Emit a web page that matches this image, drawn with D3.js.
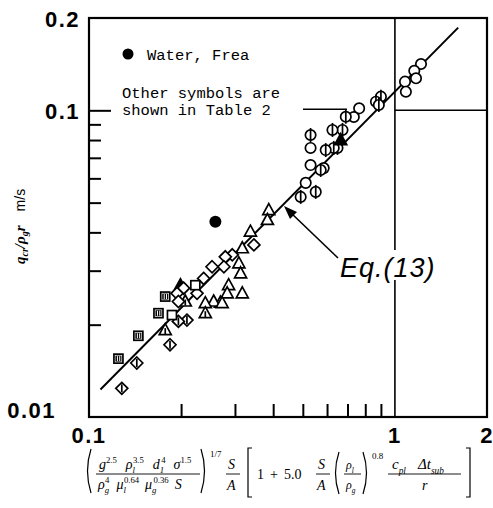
<!DOCTYPE html>
<html>
<head>
<meta charset="utf-8">
<script src="https://cdn.jsdelivr.net/npm/d3@7"></script>
<style>
  html, body { margin: 0; padding: 0; background: #fff; }
</style>
</head>
<body>
<div id="chart"></div>
<script>
// data (x = dimensionless group, y = q_cr/rho_g r in m/s)
const openCircles = [[1.217, 0.1416], [1.157, 0.1346], [1.172, 0.1272], [1.079, 0.124], [1.086, 0.115],
    [0.764, 0.1015], [0.734, 0.0951], [0.53, 0.0754], [0.53, 0.0663], [0.585, 0.0648], [0.511, 0.058]];
const barCircles = [[0.9, 0.1108], [0.867, 0.1067], [0.886, 0.1041], [0.691, 0.0953], [0.674, 0.0863],
    [0.625, 0.0863], [0.649, 0.0754], [0.631, 0.0754], [0.594, 0.0742], [0.572, 0.0639], [0.551, 0.0542],
    [0.492, 0.0522], [0.53, 0.0831]];
const openTriangles = [[0.387, 0.0473], [0.383, 0.0439], [0.337, 0.0402], [0.317, 0.0355], [0.309, 0.0317],
    [0.313, 0.0294], [0.317, 0.0253], [0.286, 0.0269], [0.283, 0.0253], [0.269, 0.0236], [0.2556, 0.0238],
    [0.240, 0.0235], [0.2724, 0.0235]];
const barTriangles = [[0.240, 0.0218], [0.1775, 0.0192], [0.2064, 0.0238]];
const filledTriangles = [[0.665, 0.08], [0.199, 0.0269]];
const openDiamonds = [[0.346, 0.0364], [0.294, 0.0338], [0.279, 0.0333], [0.276, 0.0309], [0.2525, 0.0309],
    [0.237, 0.0283], [0.2255, 0.0253], [0.2038, 0.0263], [0.194, 0.0253], [0.196, 0.0238]];
const barDiamonds = [[0.209, 0.0207], [0.196, 0.0205], [0.184, 0.0172], [0.1433, 0.015], [0.128, 0.0124]];
const openSquares = [[0.2226, 0.0269], [0.1867, 0.0215]];
const barSquares = [[0.1775, 0.0247], [0.1687, 0.0218], [0.145, 0.0184], [0.1248, 0.0155]];
const waterFrea = [[0.2589, 0.0433]];

// Eq.(13) correlation line end points
const eqLine = [[0.109, 0.0123], [1.61, 0.186]];

const xDomain = [0.1, 2];
const yDomain = [0.01, 0.2];
const xMinorTicks = [0.2, 0.3, 0.4, 0.5, 0.6, 0.7, 0.8, 0.9];
const yMinorTicks = [0.02, 0.03, 0.04, 0.05, 0.06, 0.07, 0.08, 0.09];
const yMajorTicks = [0.1];
const xTickLabels = [[0.1, "0.1"], [1, "1"], [2, "2"]];
const yTickLabels = [[0.2, "0.2"], [0.1, "0.1"], [0.01, "0.01"]];

const W = 493, H = 508;
const SERIF = "'Liberation Serif', 'DejaVu Serif', serif";
const SANS = "'Liberation Sans', Arial, sans-serif";
const MONO = "'Liberation Mono', 'DejaVu Sans Mono', monospace";

const svg = d3.select("#chart").append("svg")
    .attr("width", W)
    .attr("height", H)
    .style("display", "block")
    .style("background", "#fff");

const x = d3.scaleLog().domain(xDomain).range([89, 487]);
const y = d3.scaleLog().domain(yDomain).range([417, 18]);

const plot = svg.append("g");

// ticks, pointing into the frame
plot.append("g")
    .attr("transform", `translate(0,${y(yDomain[0])})`)
    .call(d3.axisBottom(x).tickValues(xMinorTicks).tickSize(-13).tickSizeOuter(0).tickFormat(""))
    .call(g => g.select(".domain").remove())
    .selectAll("line").attr("stroke", "#000").attr("stroke-width", 2);

plot.append("g")
    .attr("transform", `translate(${x(xDomain[0])},0)`)
    .call(d3.axisLeft(y).tickValues(yMinorTicks).tickSize(-12).tickSizeOuter(0).tickFormat(""))
    .call(g => g.select(".domain").remove())
    .selectAll("line").attr("stroke", "#000").attr("stroke-width", 2);

plot.append("g")
    .attr("transform", `translate(${x(xDomain[0])},0)`)
    .call(d3.axisLeft(y).tickValues(yMajorTicks).tickSize(-22).tickSizeOuter(0).tickFormat(""))
    .call(g => g.select(".domain").remove())
    .selectAll("line").attr("stroke", "#000").attr("stroke-width", 2);

// frame
plot.append("rect")
    .attr("x", x(xDomain[0]))
    .attr("y", y(yDomain[1]))
    .attr("width", x(xDomain[1]) - x(xDomain[0]))
    .attr("height", y(yDomain[0]) - y(yDomain[1]))
    .attr("fill", "none")
    .attr("stroke", "#000")
    .attr("stroke-width", 2.2);

// grid lines at x = 1 and (to the right of it) y = 0.1
plot.append("line")
    .attr("x1", x(1)).attr("x2", x(1))
    .attr("y1", y(yDomain[1])).attr("y2", y(yDomain[0]))
    .attr("stroke", "#000").attr("stroke-width", 1.6);
plot.append("line")
    .attr("x1", x(1)).attr("x2", x(xDomain[1]))
    .attr("y1", y(0.1)).attr("y2", y(0.1))
    .attr("stroke", "#000").attr("stroke-width", 1.6);

// correlation line
plot.append("line")
    .attr("x1", x(eqLine[0][0])).attr("y1", y(eqLine[0][1]))
    .attr("x2", x(eqLine[1][0])).attr("y2", y(eqLine[1][1]))
    .attr("stroke", "#000").attr("stroke-width", 2);

// markers
const SW = 1.7;
const tri = "M0,-6.5L6,4.5L-6,4.5Z";
const dia = "M0,-6L6,0L0,6L-6,0Z";

const drawSet = (data, draw) => {
    data.forEach(d => {
        const g = plot.append("g").attr("transform", `translate(${x(d[0])},${y(d[1])})`);
        draw(g);
    });
};

const outline = sel => sel.attr("stroke", "#000").attr("stroke-width", SW);

drawSet(openCircles, g => outline(g.append("circle").attr("r", 5.2).attr("fill", "#fff")));
drawSet(barCircles, g => {
    outline(g.append("circle").attr("r", 5.2).attr("fill", "#fff"));
    outline(g.append("line").attr("y1", -7).attr("y2", 7));
});
drawSet(openTriangles, g => outline(g.append("path").attr("d", tri).attr("fill", "#fff")));
drawSet(barTriangles, g => {
    outline(g.append("path").attr("d", tri).attr("fill", "#fff"));
    outline(g.append("line").attr("y1", -2).attr("y2", 4));
});
drawSet(filledTriangles, g => outline(g.append("path").attr("d", tri).attr("fill", "#000")));
drawSet(openDiamonds, g => outline(g.append("path").attr("d", dia).attr("fill", "#fff")));
drawSet(barDiamonds, g => {
    outline(g.append("path").attr("d", dia).attr("fill", "#fff"));
    outline(g.append("line").attr("y1", -4).attr("y2", 4));
});
drawSet(openSquares, g => outline(g.append("rect").attr("x", -4.5).attr("y", -4.5)
    .attr("width", 9).attr("height", 9).attr("fill", "#fff")));
drawSet(barSquares, g => {
    outline(g.append("rect").attr("x", -4.5).attr("y", -4.5).attr("width", 9).attr("height", 9).attr("fill", "#fff"));
    g.append("rect").attr("x", -3).attr("y", -3).attr("width", 6).attr("height", 6).attr("fill", "#000");
    g.append("line").attr("x1", -1).attr("x2", -1).attr("y1", -2.5).attr("y2", 2.5).attr("stroke", "#fff").attr("stroke-width", 1);
    g.append("line").attr("x1", 1.3).attr("x2", 1.3).attr("y1", -2.5).attr("y2", 2.5).attr("stroke", "#fff").attr("stroke-width", 1);
});
drawSet(waterFrea, g => g.append("circle").attr("r", 6).attr("fill", "#000"));

// legend notes
plot.append("circle").attr("cx", 128).attr("cy", 54).attr("r", 5.5).attr("fill", "#000");
plot.append("text")
    .attr("x", 147).attr("y", 60)
    .attr("font-family", MONO).attr("font-size", 15.5)
    .text("Water, Frea");
plot.append("text")
    .attr("x", 122).attr("y", 98)
    .attr("font-family", MONO).attr("font-size", 15.5)
    .text("Other symbols are");
plot.append("text")
    .attr("x", 122).attr("y", 115)
    .attr("font-family", MONO).attr("font-size", 15.5)
    .text("shown in Table 2");
plot.append("line")
    .attr("x1", 303).attr("x2", 347)
    .attr("y1", y(0.1) - 1).attr("y2", y(0.1) - 1)
    .attr("stroke", "#000").attr("stroke-width", 1.5);

// Eq.(13) label with arrow
plot.append("rect")
    .attr("x", 338).attr("y", 250).attr("width", 100).attr("height", 30)
    .attr("fill", "#fff");
plot.append("text")
    .attr("x", 340).attr("y", 277)
    .attr("font-family", SANS).attr("font-style", "italic")
    .attr("font-size", 27).attr("letter-spacing", 1)
    .text("Eq.(13)");
plot.append("line")
    .attr("x1", 338).attr("y1", 258).attr("x2", 290).attr("y2", 212)
    .attr("stroke", "#000").attr("stroke-width", 1.6);
plot.append("path")
    .attr("d", "M284,206L297,212L290,219Z")
    .attr("fill", "#000");

// tick labels
const tickFont = sel => sel.attr("font-family", SANS).attr("font-weight", "bold")
    .attr("font-size", 22).attr("letter-spacing", 1.5).attr("fill", "#000");

yTickLabels.forEach(([v, s]) => {
    const lowest = v === yDomain[0];
    svg.append("text")
        .attr("x", lowest ? 56 : 80)
        .attr("y", y(v) + (lowest ? 1 : 9))
        .attr("text-anchor", "end")
        .call(tickFont)
        .text(s);
});
xTickLabels.forEach(([v, s]) => {
    svg.append("text")
        .attr("x", x(v))
        .attr("y", 443)
        .attr("text-anchor", "middle")
        .call(tickFont)
        .text(s);
});

// y axis title
const yt = svg.append("text")
    .attr("transform", "translate(25,264) rotate(-90)")
    .attr("font-family", SERIF).attr("font-style", "italic").attr("font-weight", "bold")
    .attr("font-size", 15);
yt.append("tspan").text("q");
yt.append("tspan").attr("font-size", 10).attr("dy", 3).text("cr");
yt.append("tspan").attr("dy", -3).text("/ρ");
yt.append("tspan").attr("font-size", 10).attr("dy", 3).text("g");
yt.append("tspan").attr("dy", -3).text("r");
yt.append("tspan").attr("font-family", SANS).attr("font-style", "normal").attr("font-weight", "normal")
    .attr("font-size", 14).attr("dx", 14).text("m/s");

// x axis title: the dimensionless group
const ft = svg.append("g").attr("fill", "#000");

const mathRow = (px, py, size, parts) => {
    const t = ft.append("text")
        .attr("x", px).attr("y", py)
        .attr("font-family", SERIF).attr("font-size", size);
    let cur = 0;
    parts.forEach(([s, k, dx]) => {
        const off = k === "sup" ? -size * 0.45 : k === "sub" ? size * 0.3 : 0;
        const span = t.append("tspan").attr("dy", off - cur).text(s);
        cur = off;
        if (k === "sup" || k === "sub") span.attr("font-size", size * 0.62);
        if (k === "i" || k === "sub") span.attr("font-style", "italic");
        if (dx) span.attr("dx", dx);
    });
    return t;
};

const bar = (x1, x2, yy) => ft.append("line")
    .attr("x1", x1).attr("x2", x2).attr("y1", yy).attr("y2", yy)
    .attr("stroke", "#000").attr("stroke-width", 0.9);

const paren = (px, y0, y1, right) => {
    const d = right
        ? `M${px},${y0}Q${px + 7},${(y0 + y1) / 2} ${px},${y1}`
        : `M${px + 6},${y0}Q${px - 1},${(y0 + y1) / 2} ${px + 6},${y1}`;
    ft.append("path").attr("d", d).attr("fill", "none").attr("stroke", "#000").attr("stroke-width", 1.2);
};

const bracket = (px, y0, y1, right) => {
    const s = right ? -4 : 4;
    ft.append("path")
        .attr("d", `M${px + s},${y0}L${px},${y0}L${px},${y1}L${px + s},${y1}`)
        .attr("fill", "none").attr("stroke", "#000").attr("stroke-width", 1.2);
};

paren(85, 449, 493, false);
mathRow(99, 469, 14, [["g", "i"], ["2.5", "sup"], ["ρ", "i", 9], ["l", "sub"], ["3.5", "sup", -2],
    ["d", "i", 9], ["1", "sub"], ["4", "sup", -3], ["σ", "i", 8], ["1.5", "sup"]]);
bar(96, 200, 474);
mathRow(98, 489, 14, [["ρ", "i"], ["g", "sub"], ["4", "sup", -4], ["μ", "i", 7], ["l", "sub"], ["0.64", "sup", -2],
    ["μ", "i", 6], ["g", "sub"], ["0.36", "sup", -3], ["S", "i", 6]]);
paren(201, 449, 493, true);
mathRow(210, 457, 9, [["1/7", "r"]]);
mathRow(228, 469, 14, [["S", "i"]]);
bar(226, 240, 474);
mathRow(227, 490, 14, [["A", "i"]]);
bracket(248, 448, 497, false);
mathRow(257, 479, 14, [["1", "r"], ["+", "r", 6], ["5.0", "r", 6]]);
mathRow(318, 469, 14, [["S", "i"]]);
bar(316, 330, 474);
mathRow(317, 490, 14, [["A", "i"]]);
paren(333, 452, 494, false);
mathRow(346, 469, 12, [["ρ", "i"], ["l", "sub"]]);
bar(344, 361, 474);
mathRow(346, 489, 12, [["ρ", "i"], ["g", "sub"]]);
paren(363, 452, 494, true);
mathRow(372, 459, 9, [["0.8", "r"]]);
mathRow(392, 469, 15, [["c", "i"], ["pl", "sub"], ["Δt", "i", 12], ["sub", "sub"]]);
bar(388, 461, 474);
mathRow(422, 490, 14, [["r", "i"]]);
bracket(470, 448, 497, true);
</script>
</body>
</html>
